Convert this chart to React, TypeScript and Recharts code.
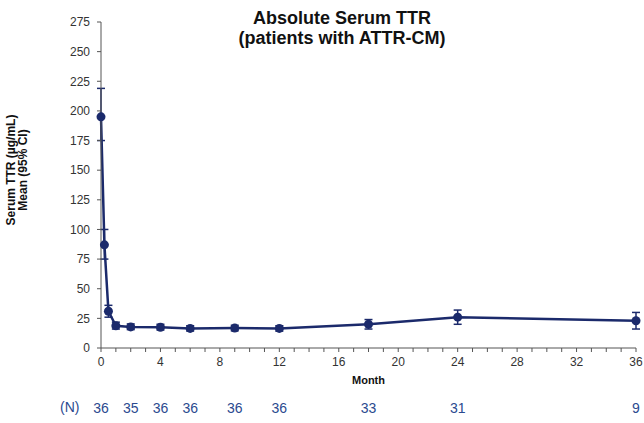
import { LineChart, Line, XAxis, YAxis, ErrorBar, Label } from 'recharts'

// months since start, mean serum TTR (ug/mL) and 95% CI bounds
const months = [0, 0.23, 0.5, 1, 2, 4, 6, 9, 12, 18, 24, 36]
const meanTTR = [195, 87, 31, 18.8, 17.8, 17.5, 16.5, 16.8, 16.5, 20, 26, 23]
const ciLow = [175, 75, 26, 16, 15.5, 15.2, 14.3, 14.5, 14.2, 16, 20, 16]
const ciHigh = [219, 100, 36, 21.8, 20.3, 20, 18.8, 19.2, 18.8, 24, 32, 30]

// number of patients at each visit
const nMonths = [0, 2, 4, 6, 9, 12, 18, 24, 36]
const nCounts = [36, 35, 36, 36, 36, 36, 33, 31, 9]

const yTicks = [0, 25, 50, 75, 100, 125, 150, 175, 200, 225, 250, 275]
const monthTicks = Array.from({ length: 37 }, (_, i) => i)

const NAVY = '#1b2a6b'
const FONT = '"Liberation Sans", Arial, sans-serif'

const data = months.map((m, i) => ({
  month: m,
  ttr: meanTTR[i],
  ci: [meanTTR[i] - ciLow[i], ciHigh[i] - meanTTR[i]],
}))

export default function App() {
  return (
    <div style={{ position: 'absolute', left: 0, top: 0, width: 644, height: 423, fontFamily: FONT, background: '#fff' }}>
      <div style={{ position: 'absolute', left: 192, top: 8, width: 300, textAlign: 'center', fontSize: 18, fontWeight: 'bold', lineHeight: '20px', color: '#111' }}>
        Absolute Serum TTR
        <br />
        (patients with ATTR-CM)
      </div>
      <div style={{ position: 'absolute', left: -58, top: 158, width: 150, height: 24, lineHeight: '12px', textAlign: 'center', fontSize: 12, fontWeight: 'bold', color: '#111', transform: 'rotate(-90deg)' }}>
        Serum TTR (µg/mL)
        <br />
        Mean (95% CI)
      </div>
      <div style={{ position: 'absolute', left: 60, top: 399, fontSize: 14, color: '#2b4a8f' }}>(N)</div>
      <LineChart width={644} height={423} data={data} margin={{ top: 22, right: 8, left: 0, bottom: 0 }}>
        <XAxis
          dataKey="month"
          type="number"
          domain={[0, 36]}
          ticks={monthTicks}
          interval={0}
          tickFormatter={(v: number) => (v % 4 === 0 ? String(v) : '')}
          height={38}
          tickSize={4}
          tickMargin={5}
          stroke="#555"
          tick={{ fill: '#333', fontSize: 12, fontFamily: FONT }}
        >
          <Label value="Month" position="insideBottom" offset={2} style={{ fontSize: 11, fontWeight: 'bold', fill: '#111', fontFamily: FONT }} />
        </XAxis>
        <XAxis
          xAxisId="n"
          dataKey="month"
          type="number"
          domain={[0, 36]}
          ticks={nMonths}
          interval={0}
          tickFormatter={(v: number) => String(nCounts[nMonths.indexOf(v)] ?? '')}
          height={37}
          axisLine={false}
          tickLine={false}
          tickSize={8}
          tickMargin={9}
          tick={{ fill: '#2b4a8f', fontSize: 14, fontFamily: FONT }}
        />
        <YAxis
          type="number"
          domain={[0, 275]}
          ticks={yTicks}
          interval={0}
          width={101}
          tickSize={4}
          tickMargin={7}
          stroke="#555"
          tick={{ fill: '#333', fontSize: 12, fontFamily: FONT }}
        />
        <Line
          xAxisId="n"
          dataKey="ttr"
          stroke="none"
          dot={false}
          activeDot={false}
          legendType="none"
          isAnimationActive={false}
        />
        <Line
          dataKey="ttr"
          stroke={NAVY}
          strokeWidth={2.5}
          dot={{ r: 4.5, fill: NAVY, stroke: NAVY, strokeWidth: 0 }}
          isAnimationActive={false}
        >
          <ErrorBar dataKey="ci" direction="y" width={4} stroke={NAVY} strokeWidth={1.5} />
        </Line>
      </LineChart>
    </div>
  )
}
